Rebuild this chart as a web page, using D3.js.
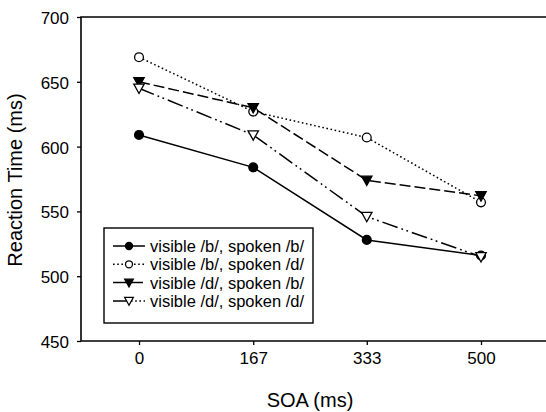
<!DOCTYPE html>
<html>
<head>
<meta charset="utf-8">
<script src="https://cdn.jsdelivr.net/npm/d3@7"></script>
<style>
  body { margin: 0; background: #fff; }
  svg { display: block; }
</style>
</head>
<body>
<script>
// data
var soa = [0, 167, 333, 500];
var yTicks = [450, 500, 550, 600, 650, 700];
var names = ["visible /b/, spoken /b/", "visible /b/, spoken /d/", "visible /d/, spoken /b/", "visible /d/, spoken /d/"];
var bSpokenB = [609, 584, 528, 516];
var bSpokenD = [669, 627, 607, 557];
var dSpokenB = [650, 630, 574, 562];
var dSpokenD = [645, 609, 546, 515];

var width = 546, height = 412;
var plotLeft = 81, plotTop = 17, plotBottom = 341;
var font = "'Liberation Sans', Arial, Helvetica, sans-serif";

var svg = d3.select("body").append("svg")
    .attr("width", width)
    .attr("height", height);

var x = d3.scaleLinear().domain([0, 500]).range([139, 481]);
var y = d3.scaleLinear().domain([450, 700]).range([plotBottom, plotTop]);

// frame (right side runs off the picture)
svg.append("path")
    .attr("d", "M" + (width + 10) + "," + plotTop + "H" + plotLeft + "V" + plotBottom + "H" + (width + 10))
    .attr("fill", "none")
    .attr("stroke", "#000")
    .attr("stroke-width", 1.6);

var xAxis = svg.append("g")
    .attr("transform", "translate(0," + plotBottom + ")")
    .call(d3.axisBottom(x).tickValues(soa).tickSize(4).tickPadding(7).tickFormat(d3.format("d")));
xAxis.select(".domain").remove();
xAxis.selectAll("line").attr("stroke-width", 1.3);
xAxis.selectAll("text").attr("font-family", font).attr("font-size", "17px").attr("fill", "#000");

var yAxis = svg.append("g")
    .attr("transform", "translate(" + plotLeft + ",0)")
    .call(d3.axisLeft(y).tickValues(yTicks).tickSize(4).tickPadding(8));
yAxis.select(".domain").remove();
yAxis.selectAll("line").attr("stroke-width", 1.3);
yAxis.selectAll("text").attr("font-family", font).attr("font-size", "17px").attr("fill", "#000").attr("dy", "0.38em");

svg.append("text")
    .attr("x", 310)
    .attr("y", 407)
    .attr("text-anchor", "middle")
    .attr("font-family", font)
    .attr("font-size", "20px")
    .text("SOA (ms)");

svg.append("text")
    .attr("transform", "translate(22,180) rotate(-90)")
    .attr("text-anchor", "middle")
    .attr("font-family", font)
    .attr("font-size", "20px")
    .text("Reaction Time (ms)");

var series = [
    {name: names[0], values: bSpokenB, dash: null, legendDash: null, marker: "circle", filled: true},
    {name: names[1], values: bSpokenD, dash: "1.6,2.6", legendDash: "1.6,2.6", marker: "circle", filled: false},
    {name: names[2], values: dSpokenB, dash: "11,4", legendDash: "14,2", marker: "triangle", filled: true},
    {name: names[3], values: dSpokenD, dash: "16,4,1.8,3.5,1.8,4", legendDash: "15,3,1.6,2.6,1.6,2.6,1.6,2.6,1.6,2.6,1.6,20", marker: "triangle", filled: false}
];

var line = d3.line()
    .x(function(d, i) { return x(soa[i]); })
    .y(function(d) { return y(d); });

function triangle(s) {
    return "M" + (-s) + "," + (-0.8 * s) + "L" + s + "," + (-0.8 * s) + "L0," + s + "Z";
}

function drawMarker(g, type, filled, cx, cy, s) {
    var m;
    if (type === "circle") {
        m = g.append("circle").attr("cx", cx).attr("cy", cy).attr("r", s);
    } else {
        m = g.append("path").attr("d", triangle(s + 0.8)).attr("transform", "translate(" + cx + "," + cy + ")");
    }
    m.attr("fill", filled ? "#000" : "#fff")
        .attr("stroke", "#000")
        .attr("stroke-width", 1.3);
}

var plot = svg.append("g");
series.forEach(function(s) {
    plot.append("path")
        .attr("d", line(s.values))
        .attr("fill", "none")
        .attr("stroke", "#000")
        .attr("stroke-width", 1.5)
        .attr("stroke-dasharray", s.dash);
});
series.forEach(function(s) {
    s.values.forEach(function(v, i) {
        drawMarker(plot, s.marker, s.filled, x(soa[i]), y(v), 4.4);
    });
});

// legend
var legend = svg.append("g");
legend.append("rect")
    .attr("x", 104)
    .attr("y", 228)
    .attr("width", 209)
    .attr("height", 95)
    .attr("fill", "#fff")
    .attr("stroke", "#000")
    .attr("stroke-width", 1.4);

series.forEach(function(s, i) {
    var ly = 246 + i * 18.3;
    legend.append("line")
        .attr("x1", 113).attr("x2", 145)
        .attr("y1", ly).attr("y2", ly)
        .attr("stroke", "#000")
        .attr("stroke-width", 1.5)
        .attr("stroke-dasharray", s.legendDash);
    drawMarker(legend, s.marker, s.filled, 129, ly, 3.5);
    legend.append("text")
        .attr("x", 150)
        .attr("y", ly)
        .attr("dy", "0.36em")
        .attr("font-family", font)
        .attr("font-size", "16.5px")
        .text(s.name);
});
</script>
</body>
</html>
